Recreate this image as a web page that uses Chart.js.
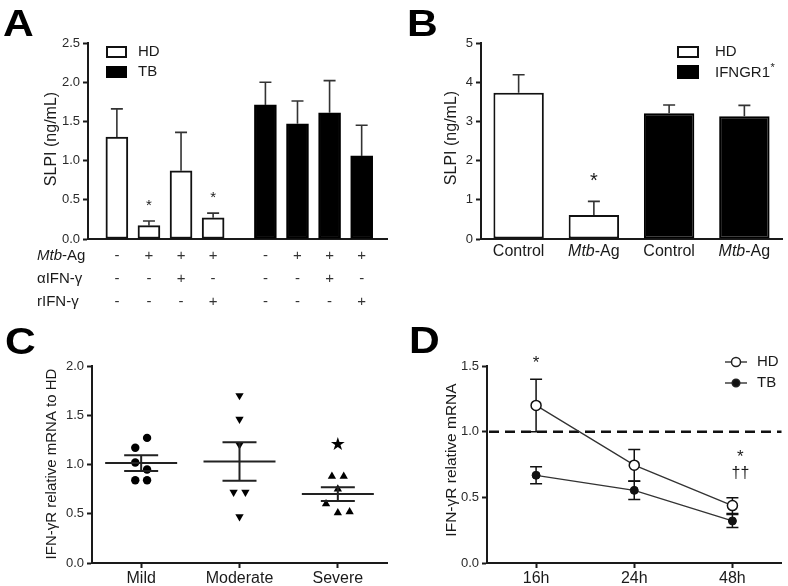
<!DOCTYPE html>
<html>
<head>
<meta charset="utf-8">
<script src="https://cdn.jsdelivr.net/npm/chart.js@4.4.1/dist/chart.umd.min.js"></script>
<style>
  body { margin: 0; background: #fff; width: 788px; height: 586px; position: relative; overflow: hidden; }
  canvas { position: absolute; }
</style>
</head>
<body>
<canvas id="chartA" width="400" height="312" style="left:0;top:0"></canvas>
<canvas id="chartB" width="388" height="270" style="left:400px;top:0"></canvas>
<canvas id="chartC" width="400" height="316" style="left:0;top:270px"></canvas>
<canvas id="chartD" width="388" height="316" style="left:400px;top:270px"></canvas>
<script>
// ---- panel A: SLPI, HD vs TB, treatments ----
const treatmentLabels = ['Mtb-Ag', 'αIFN-γ', 'rIFN-γ'];
const mtbAg   = ['-', '+', '+', '+', '-', '+', '+', '+'];
const antiIfn = ['-', '-', '+', '-', '-', '-', '+', '-'];
const rIfn    = ['-', '-', '-', '+', '-', '-', '-', '+'];
const slpiHD    = [1.30, 0.17, 0.87, 0.27];
const slpiHDErr = [0.36, 0.06, 0.49, 0.06];
const slpiTB    = [1.71, 1.47, 1.61, 1.06];
const slpiTBErr = [0.29, 0.29, 0.41, 0.39];
const starsHD   = [false, true, false, true];

// ---- panel B: SLPI, HD vs IFNGR1* ----
const groupsB    = ['Control', 'Mtb-Ag', 'Control', 'Mtb-Ag'];
const slpiB      = [3.73, 0.61, 3.21, 3.13];
const slpiBErr   = [0.46, 0.35, 0.21, 0.28];
const starsB     = [false, true, false, false];

// ---- panel C: IFN-γR mRNA by severity ----
const severityLabels = ['Mild', 'Moderate', 'Severe'];
const mildValues     = [1.17, 1.27, 1.02, 0.95, 0.84, 0.84];
const moderateValues = [1.70, 1.46, 1.20, 0.72, 0.72, 0.47];
const severeValues   = [0.88, 0.88, 0.75, 0.60, 0.51, 0.52];
const severityMean   = [1.015, 1.03, 0.70];
const severitySem    = [0.08, 0.195, 0.07];

// ---- panel D: IFN-γR mRNA over time ----
const timeLabels = ['16h', '24h', '48h'];
const hdMrna     = [1.20, 0.745, 0.437];
const hdMrnaErr  = [0.20, 0.12, 0.06];
const tbMrna     = [0.668, 0.553, 0.32];
const tbMrnaErr  = [0.065, 0.07, 0.05];

const FONT = '"Liberation Sans", Arial, Helvetica, sans-serif';
const INK = '#1a1a1a';
const TB_OFFSET = 4.63;           // where the TB group starts on panel A's x scale
const JITTER = [[-1, 1, -1, 1, -1, 1], [0, 0, 0, -1, 1, 0], [-1, 1, 0, -2, 0, 2]];

function slotPos(i) { return i < 4 ? i : i - 4 + TB_OFFSET; }

function drawMixedLabel(ctx, text, x, y, size, align) {
  // "Mtb" is set in italics, the rest upright
  const parts = text.startsWith('Mtb') ? [['Mtb', true], [text.slice(3), false]] : [[text, false]];
  let total = 0;
  parts.forEach(p => { ctx.font = `${p[1] ? 'italic ' : ''}${size}px ${FONT}`; total += ctx.measureText(p[0]).width; });
  let cx = align === 'center' ? x - total / 2 : x;
  ctx.textAlign = 'left';
  parts.forEach(p => {
    ctx.font = `${p[1] ? 'italic ' : ''}${size}px ${FONT}`;
    ctx.fillText(p[0], cx, y);
    cx += ctx.measureText(p[0]).width;
  });
}

function decor(letter, lx, ly, title, tx, ty, titleSize) {
  return {
    id: 'decor' + letter,
    afterDraw(chart) {
      const ctx = chart.ctx;
      ctx.save();
      ctx.fillStyle = '#000';
      ctx.font = `bold 37px ${FONT}`;
      ctx.textAlign = 'left';
      ctx.textBaseline = 'alphabetic';
      ctx.save();
      ctx.translate(lx, ly);
      ctx.scale(1.15, 1);
      ctx.fillText(letter, 0, 0);
      ctx.restore();
      ctx.translate(tx, ty);
      ctx.rotate(-Math.PI / 2);
      ctx.fillStyle = INK;
      ctx.font = `${titleSize}px ${FONT}`;
      ctx.textAlign = 'center';
      ctx.textBaseline = 'middle';
      ctx.fillText(title, 0, 0);
      ctx.restore();
    }
  };
}

function barErrors(errs, stars, starGap, starSize) {
  return {
    id: 'barErrors',
    afterDatasetsDraw(chart) {
      const ctx = chart.ctx, ys = chart.scales.y;
      ctx.save();
      ctx.strokeStyle = '#333';
      ctx.lineWidth = 1.6;
      chart.data.datasets.forEach((ds, di) => {
        chart.getDatasetMeta(di).data.forEach((bar, i) => {
          const d = ds.data[i];
          const v = typeof d === 'object' ? d.y : d;
          const top = ys.getPixelForValue(v + errs[di][i]);
          ctx.beginPath();
          ctx.moveTo(bar.x, bar.y);
          ctx.lineTo(bar.x, top);
          ctx.moveTo(bar.x - 6, top);
          ctx.lineTo(bar.x + 6, top);
          ctx.stroke();
          if (stars[di] && stars[di][i]) {
            ctx.fillStyle = INK;
            ctx.font = `${starSize}px ${FONT}`;
            ctx.textAlign = 'center';
            ctx.textBaseline = 'middle';
            ctx.fillText('*', bar.x, top - starGap);
          }
        });
      });
      ctx.restore();
    }
  };
}

function axisY(min, max, step, width, digits) {
  return {
    min, max,
    ticks: { stepSize: step, color: '#2a2a2a', padding: 3, font: { family: FONT, size: 13 },
             callback: v => v.toFixed(digits) },
    grid: { drawOnChartArea: false, drawTicks: true, tickLength: 5, tickColor: INK, tickWidth: 2 },
    border: { display: true, width: 2, color: INK },
    afterFit: s => { s.width = width; }
  };
}

const common = {
  responsive: false,
  animation: false,
  devicePixelRatio: 1,
  plugins: { legend: { display: false }, tooltip: { enabled: false } }
};

// ---------- A ----------
new Chart(document.getElementById('chartA'), {
  type: 'bar',
  data: {
    datasets: [
      { label: 'HD', data: slpiHD.map((v, i) => ({ x: slotPos(i), y: v })), backgroundColor: '#fff',
        borderColor: '#111', borderWidth: 2, borderSkipped: false, barThickness: 22, grouped: false },
      { label: 'TB', data: slpiTB.map((v, i) => ({ x: slotPos(i + 4), y: v })), backgroundColor: '#000',
        borderColor: '#000', borderWidth: 2, borderSkipped: false, barThickness: 22, grouped: false }
    ]
  },
  options: {
    ...common,
    layout: { padding: { top: 43, right: 13, left: 0, bottom: 0 } },
    scales: {
      x: { type: 'linear', min: -0.9, max: 8.42, offset: false, ticks: { display: false },
           grid: { drawOnChartArea: false, drawTicks: false }, border: { display: true, width: 2, color: INK },
           afterFit: s => { s.height = 73; } },
      y: axisY(0, 2.5, 0.5, 88, 1)
    }
  },
  plugins: [
    decor('A', 3, 36, 'SLPI (ng/mL)', 52, 139, 16),
    barErrors([slpiHDErr, slpiTBErr], [starsHD, null], 15, 15),
    {
      id: 'legendTable',
      afterDraw(chart) {
        const ctx = chart.ctx, xs = chart.scales.x;
        ctx.save();
        // legend
        ctx.lineWidth = 2;
        ctx.strokeStyle = '#111';
        ctx.fillStyle = '#fff';
        ctx.fillRect(107, 47, 19, 10);
        ctx.strokeRect(107, 47, 19, 10);
        ctx.fillStyle = '#000';
        ctx.fillRect(106, 66, 21, 12);
        ctx.fillStyle = INK;
        ctx.font = `15px ${FONT}`;
        ctx.textAlign = 'left';
        ctx.textBaseline = 'middle';
        ctx.fillText('HD', 138, 52);
        ctx.fillText('TB', 138, 72);
        // treatment table
        [mtbAg, antiIfn, rIfn].forEach((row, r) => {
          const yy = 256 + r * 23;
          ctx.fillStyle = INK;
          ctx.textBaseline = 'middle';
          drawMixedLabel(ctx, treatmentLabels[r], 37, yy, 15, 'left');
          ctx.font = `15px ${FONT}`;
          ctx.textAlign = 'center';
          ctx.fillStyle = '#333';
          row.forEach((s, i) => ctx.fillText(s, xs.getPixelForValue(slotPos(i)), yy));
        });
        ctx.restore();
      }
    }
  ]
});

// ---------- B ----------
new Chart(document.getElementById('chartB'), {
  type: 'bar',
  data: {
    labels: groupsB,
    datasets: [{ label: 'SLPI', data: slpiB, backgroundColor: ['#fff', '#fff', '#000', '#000'],
                 borderColor: ['#111', '#111', '#000', '#000'], borderWidth: 2, borderSkipped: false,
                 barPercentage: 0.67, categoryPercentage: 1 }]
  },
  options: {
    ...common,
    layout: { padding: { top: 43, right: 6, left: 0, bottom: 0 } },
    scales: {
      x: { ticks: { display: false }, grid: { drawOnChartArea: false, drawTicks: false },
           border: { display: true, width: 2, color: INK }, afterFit: s => { s.height = 31; } },
      y: axisY(0, 5, 1, 81, 0)
    }
  },
  plugins: [
    decor('B', 7, 36, 'SLPI (ng/mL)', 52, 138, 16),
    barErrors([slpiBErr], [starsB], 20, 20),
    {
      id: 'legendLabels',
      afterDraw(chart) {
        const ctx = chart.ctx, xs = chart.scales.x;
        ctx.save();
        ctx.lineWidth = 2;
        ctx.strokeStyle = '#111';
        ctx.fillStyle = '#fff';
        ctx.fillRect(278, 47, 20, 10);
        ctx.strokeRect(278, 47, 20, 10);
        ctx.fillStyle = '#000';
        ctx.fillRect(277, 65, 22, 14);
        ctx.fillStyle = INK;
        ctx.font = `15px ${FONT}`;
        ctx.textAlign = 'left';
        ctx.textBaseline = 'middle';
        ctx.fillText('HD', 315, 52);
        ctx.fillText('IFNGR1', 315, 73);
        const w = ctx.measureText('IFNGR1').width;
        ctx.font = `11px ${FONT}`;
        ctx.fillText('*', 315 + w + 0.5, 68);
        groupsB.forEach((g, i) => drawMixedLabel(ctx, g, xs.getPixelForValue(i), 252, 16, 'center'));
        ctx.restore();
      }
    }
  ]
});

// ---------- C ----------
const groupsC = [mildValues, moderateValues, severeValues];
new Chart(document.getElementById('chartC'), {
  type: 'scatter',
  data: {
    datasets: groupsC.map((vals, g) => ({
      label: severityLabels[g],
      data: vals.map((v, i) => ({ x: g + JITTER[g][i] * 0.06, y: v })),
      pointStyle: g === 0 ? 'circle' : 'triangle',
      rotation: g === 1 ? 180 : 0,
      pointRadius: g === 0 ? 4.2 : 4.8,
      backgroundColor: '#000',
      borderColor: '#000',
      borderWidth: 0
    }))
  },
  options: {
    ...common,
    layout: { padding: { top: 96, right: 13, left: 0, bottom: 0 } },
    scales: {
      x: { type: 'linear', min: -0.5, max: 2.5,
           afterBuildTicks: s => { s.ticks = severityLabels.map((_, i) => ({ value: i })); },
           ticks: { color: INK, padding: 1, font: { family: FONT, size: 16 }, callback: v => severityLabels[v] },
           grid: { drawOnChartArea: false, tickLength: 5, tickColor: INK, tickWidth: 2 },
           border: { display: true, width: 2, color: INK },
           afterFit: s => { s.height = 23; } },
      y: axisY(0, 2, 0.5, 92, 1)
    }
  },
  plugins: [
    decor('C', 5, 84, 'IFN-γR relative mRNA to HD', 52, 194, 15),
    {
      id: 'meanSem',
      afterDatasetsDraw(chart) {
        const ctx = chart.ctx, xs = chart.scales.x, ys = chart.scales.y;
        ctx.save();
        ctx.strokeStyle = '#222';
        ctx.lineWidth = 2;
        severityMean.forEach((m, g) => {
          const cx = xs.getPixelForValue(g);
          const ym = ys.getPixelForValue(m);
          const yh = ys.getPixelForValue(m + severitySem[g]);
          const yl = ys.getPixelForValue(m - severitySem[g]);
          ctx.beginPath();
          ctx.moveTo(cx - 36, ym); ctx.lineTo(cx + 36, ym);
          ctx.moveTo(cx - 17, yh); ctx.lineTo(cx + 17, yh);
          ctx.moveTo(cx - 17, yl); ctx.lineTo(cx + 17, yl);
          ctx.moveTo(cx, yh); ctx.lineTo(cx, yl);
          ctx.stroke();
        });
        // significance mark above the severe group
        const sx = xs.getPixelForValue(2);
        const sy = ys.getPixelForValue(Math.max(...severeValues)) - 31;
        ctx.fillStyle = '#000';
        ctx.font = `18px "DejaVu Sans", ${FONT}`;
        ctx.textAlign = 'center';
        ctx.textBaseline = 'middle';
        ctx.fillText('★', sx, sy);
        ctx.restore();
      }
    }
  ]
});

// ---------- D ----------
new Chart(document.getElementById('chartD'), {
  type: 'line',
  data: {
    labels: timeLabels,
    datasets: [
      { label: 'HD', data: hdMrna, borderColor: '#333', borderWidth: 1.3, pointRadius: 5,
        pointBackgroundColor: '#fff', pointBorderColor: '#111', pointBorderWidth: 1.5, tension: 0 },
      { label: 'TB', data: tbMrna, borderColor: '#333', borderWidth: 1.3, pointRadius: 4,
        pointBackgroundColor: '#111', pointBorderColor: '#111', pointBorderWidth: 1, tension: 0 }
    ]
  },
  options: {
    ...common,
    layout: { padding: { top: 96, right: 6, left: 0, bottom: 0 } },
    scales: {
      x: { offset: true, ticks: { color: INK, padding: 1, font: { family: FONT, size: 16 } },
           grid: { offset: false, drawOnChartArea: false, tickLength: 5, tickColor: INK, tickWidth: 2 },
           border: { display: true, width: 2, color: INK },
           afterFit: s => { s.height = 23; } },
      y: axisY(0, 1.5, 0.5, 87, 1)
    }
  },
  plugins: [
    decor('D', 9, 83, 'IFN-γR relative mRNA', 52, 190, 15.5),
    {
      id: 'refErrors',
      beforeDatasetsDraw(chart) {
        const ctx = chart.ctx, ys = chart.scales.y, area = chart.chartArea;
        ctx.save();
        // reference level 1.0
        const y1 = ys.getPixelForValue(1);
        ctx.strokeStyle = '#111';
        ctx.lineWidth = 2.5;
        ctx.setLineDash([10, 6]);
        ctx.beginPath();
        ctx.moveTo(area.left + 2, y1);
        ctx.lineTo(area.right, y1);
        ctx.stroke();
        ctx.setLineDash([]);
        // error bars
        ctx.lineWidth = 1.5;
        [[hdMrna, hdMrnaErr], [tbMrna, tbMrnaErr]].forEach(([vals, errs], di) => {
          chart.getDatasetMeta(di).data.forEach((pt, i) => {
            const yh = ys.getPixelForValue(vals[i] + errs[i]);
            const yl = ys.getPixelForValue(vals[i] - errs[i]);
            ctx.beginPath();
            ctx.moveTo(pt.x, yh); ctx.lineTo(pt.x, yl);
            ctx.moveTo(pt.x - 6, yh); ctx.lineTo(pt.x + 6, yh);
            ctx.moveTo(pt.x - 6, yl); ctx.lineTo(pt.x + 6, yl);
            ctx.stroke();
          });
        });
        ctx.restore();
      },
      afterDraw(chart) {
        const ctx = chart.ctx, xs = chart.scales.x, ys = chart.scales.y;
        ctx.save();
        // legend
        ctx.strokeStyle = '#222';
        ctx.lineWidth = 1.3;
        [92, 113].forEach((ly, k) => {
          ctx.beginPath();
          ctx.moveTo(325, ly); ctx.lineTo(347, ly);
          ctx.stroke();
          ctx.beginPath();
          ctx.arc(336, ly, k === 0 ? 4.5 : 3.8, 0, Math.PI * 2);
          ctx.fillStyle = k === 0 ? '#fff' : '#111';
          ctx.fill();
          ctx.lineWidth = 1.5;
          ctx.stroke();
          ctx.lineWidth = 1.3;
        });
        ctx.fillStyle = INK;
        ctx.font = `15px ${FONT}`;
        ctx.textAlign = 'left';
        ctx.textBaseline = 'middle';
        ctx.fillText('HD', 357, 92);
        ctx.fillText('TB', 357, 113);
        // significance marks
        ctx.textAlign = 'center';
        ctx.font = `17px ${FONT}`;
        const x0 = xs.getPixelForValue(0);
        ctx.fillText('*', x0, ys.getPixelForValue(hdMrna[0] + hdMrnaErr[0]) - 16);
        const x2 = xs.getPixelForValue(2) + 8;
        const top2 = ys.getPixelForValue(hdMrna[2] + hdMrnaErr[2]);
        ctx.fillText('*', x2, top2 - 40);
        ctx.font = `16px ${FONT}`;
        ctx.fillText('††', x2, top2 - 24);
        ctx.restore();
      }
    }
  ]
});
</script>
</body>
</html>
